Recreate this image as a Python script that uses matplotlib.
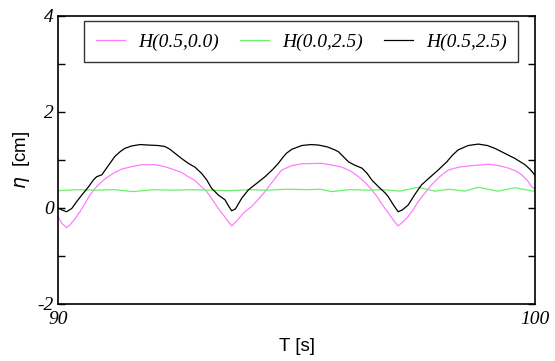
import matplotlib
matplotlib.use("Agg")
import matplotlib.pyplot as plt
from matplotlib.font_manager import FontProperties
from matplotlib.ticker import MultipleLocator, FixedLocator

plt.rcParams["axes.unicode_minus"] = False

# surface elevation records, 90-100 s
t_a = [90.00, 90.08, 90.18, 90.25, 90.36, 90.46, 90.57, 90.67, 90.78, 90.92,
       91.05, 91.19, 91.34, 91.54, 91.75, 92.03, 92.24, 92.45, 92.59, 92.73,
       92.87, 93.01, 93.12, 93.22, 93.36, 93.50, 93.58, 93.64, 93.72, 93.85,
       93.95, 94.06, 94.20, 94.34, 94.50, 94.69, 94.90, 95.11, 95.53, 95.75,
       95.95, 96.15, 96.30, 96.45, 96.58, 96.70, 96.79, 96.92, 97.05, 97.13,
       97.22, 97.34, 97.45, 97.55, 97.70, 97.83, 98.00, 98.18, 98.40, 98.60,
       99.02, 99.25, 99.44, 99.60, 99.72, 99.85, 99.93, 100.00]
eta_a = [-0.18, -0.32, -0.41, -0.355, -0.22, -0.08, 0.10, 0.27, 0.41, 0.55,
         0.65, 0.74, 0.81, 0.86, 0.90, 0.90, 0.86, 0.79, 0.74, 0.65,
         0.57, 0.44, 0.34, 0.20, -0.01, -0.19, -0.30, -0.375, -0.30, -0.15,
         -0.05, 0.03, 0.18, 0.34, 0.55, 0.79, 0.88, 0.92, 0.93, 0.89,
         0.85, 0.76, 0.65, 0.52, 0.375, 0.22, 0.08, -0.10, -0.28, -0.375,
         -0.30, -0.18, -0.03, 0.13, 0.32, 0.48, 0.65, 0.79, 0.85, 0.875,
         0.91, 0.88, 0.83, 0.77, 0.69, 0.56, 0.44, 0.40]

t_b = [90.00, 90.40, 90.80, 91.20, 91.57, 92.00, 92.40, 92.80, 93.20, 93.60,
       94.00, 94.40, 94.80, 95.20, 95.50, 95.74, 96.10, 96.50, 96.80, 97.17,
       97.55, 97.90, 98.20, 98.53, 98.81, 99.22, 99.58, 99.96, 100.00]
eta_b = [0.36, 0.38, 0.37, 0.38, 0.34, 0.38, 0.37, 0.38, 0.37, 0.36,
         0.38, 0.37, 0.39, 0.38, 0.39, 0.34, 0.38, 0.37, 0.38, 0.35,
         0.43, 0.35, 0.39, 0.35, 0.43, 0.35, 0.42, 0.35, 0.36]

t_c = [90.00, 90.08, 90.18, 90.29, 90.39, 90.50, 90.64, 90.74, 90.81, 90.92,
       90.99, 91.09, 91.19, 91.30, 91.40, 91.54, 91.72, 91.89, 92.10, 92.24,
       92.35, 92.45, 92.59, 92.73, 92.87, 93.01, 93.12, 93.22, 93.36, 93.50,
       93.57, 93.64, 93.72, 93.85, 93.99, 94.15, 94.34, 94.50, 94.62, 94.72,
       94.79, 94.90, 95.11, 95.30, 95.46, 95.65, 95.80, 95.88, 95.98, 96.09,
       96.22, 96.37, 96.48, 96.58, 96.72, 96.86, 96.92, 97.02, 97.13, 97.22,
       97.34, 97.48, 97.62, 97.80, 97.97, 98.15, 98.27, 98.39, 98.60, 98.81,
       99.00, 99.16, 99.40, 99.58, 99.79, 99.90, 100.00]
eta_c = [0.00, -0.04, -0.08, -0.01, 0.13, 0.27, 0.44, 0.58, 0.65, 0.69,
         0.79, 0.93, 1.07, 1.17, 1.24, 1.29, 1.32, 1.31, 1.30, 1.28,
         1.22, 1.14, 1.03, 0.93, 0.85, 0.72, 0.58, 0.41, 0.27, 0.17,
         0.05, -0.06, -0.02, 0.20, 0.375, 0.50, 0.65, 0.80, 0.93, 1.06,
         1.14, 1.22, 1.30, 1.32, 1.31, 1.27, 1.21, 1.17, 1.07, 0.96,
         0.89, 0.83, 0.72, 0.58, 0.44, 0.31, 0.24, 0.08, -0.08, -0.04,
         0.06, 0.28, 0.48, 0.64, 0.79, 0.96, 1.10, 1.21, 1.30, 1.33,
         1.30, 1.24, 1.12, 1.03, 0.90, 0.80, 0.68]

labels = ["H(0.5,0.0)", "H(0.0,2.5)", "H(0.5,2.5)"]
colors = ["#ff7cff", "#6cf06c", "black"]

fig = plt.figure(figsize=(5.55, 3.61), dpi=100)
ax = fig.add_axes([0.1045, 0.158, 0.8595, 0.798])

for t, e, c, lab in zip([t_a, t_b, t_c], [eta_a, eta_b, eta_c], colors, labels):
    ax.plot(t, e, color=c, lw=0.9, label=lab)

ax.set_xlim(90, 100)
ax.set_ylim(-2, 4)
ax.xaxis.set_major_locator(FixedLocator([90, 100]))
ax.yaxis.set_major_locator(MultipleLocator(2))
ax.yaxis.set_minor_locator(MultipleLocator(1))
ax.tick_params(axis="y", which="both", direction="in", length=5, width=1,
               left=True, right=True, pad=3)
ax.tick_params(axis="x", which="both", length=0, pad=5)
for s in ax.spines.values():
    s.set_linewidth(1.2)

tick_font = FontProperties(family="Liberation Serif", style="italic", size=14)
for lab in ax.get_xticklabels() + ax.get_yticklabels():
    lab.set_fontproperties(tick_font)

ax.set_xlabel("T [s]", family="Liberation Sans", fontsize=13.5)
ax.set_ylabel(r"$\eta$  [cm]", family="Liberation Sans", fontsize=13.5)
ax.xaxis.set_label_coords(0.5, -0.118)
ax.yaxis.set_label_coords(-0.055, 0.5)

leg = fig.legend(loc="center", bbox_to_anchor=(0.543, 0.884), ncol=3,
                 fancybox=False, borderpad=0.6, handlelength=1.5,
                 handletextpad=0.65, columnspacing=1.1,
                 prop=FontProperties(family="Liberation Serif", style="italic",
                                     size=14))
leg.get_frame().set_edgecolor("black")
leg.get_frame().set_linewidth(1.0)

fig.savefig("out.png", dpi=100)
